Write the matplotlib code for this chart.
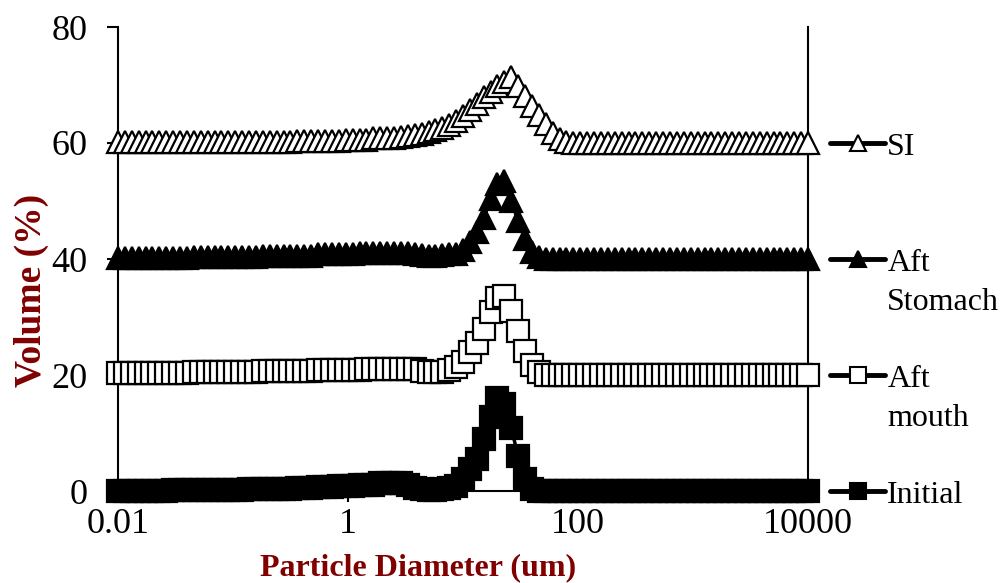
import matplotlib
matplotlib.use("Agg")
import matplotlib.pyplot as plt
import matplotlib.transforms as mtransforms

plt.rcParams['font.family'] = ['Liberation Serif', 'DejaVu Serif']

# Particle size classes (um)
sizes = [0.01000, 0.01148, 0.01318, 0.01514, 0.01738, 0.01995, 0.02291, 0.02630, 0.03020, 0.03467,
         0.03981, 0.04571, 0.05248, 0.06026, 0.06918, 0.07943, 0.09120, 0.1047, 0.1202, 0.1380,
         0.1585, 0.1820, 0.2089, 0.2399, 0.2754, 0.3162, 0.3631, 0.4169, 0.4786, 0.5495,
         0.6310, 0.7244, 0.8318, 0.9550, 1.096, 1.259, 1.445, 1.660, 1.905, 2.188,
         2.512, 2.884, 3.311, 3.802, 4.365, 5.012, 5.754, 6.607, 7.586, 8.710,
         10.00, 11.48, 13.18, 15.14, 17.38, 19.95, 22.91, 26.30, 30.20, 34.67,
         39.81, 45.71, 52.48, 60.26, 69.18, 79.43, 91.20, 104.7, 120.2, 138.0,
         158.5, 182.0, 208.9, 239.9, 275.4, 316.2, 363.1, 416.9, 478.6, 549.5,
         631.0, 724.4, 831.8, 955.0, 1096, 1259, 1445, 1660, 1905, 2188,
         2512, 2884, 3311, 3802, 4365, 5012, 5754, 6607, 7586, 8710,
         10000]

initial = [0, 0, 0, 0, 0, 0, 0, 0, 0.1, 0.1,
           0.1, 0.1, 0.1, 0.1, 0.2, 0.2, 0.2, 0.2, 0.2, 0.3,
           0.3, 0.3, 0.3, 0.4, 0.4, 0.4, 0.5, 0.5, 0.5, 0.7,
           0.7, 0.7, 0.9, 0.9, 0.9, 1.1, 1.1, 1.1, 1.3, 1.4,
           1.4, 1.3, 1.0, 0.6, 0.3, 0.2, 0.2, 0.3, 0.5, 0.8,
           2.0, 3.8, 5.6, 9.0, 12.8, 16.0, 15.0, 10.8, 6.0, 2.0,
           0.3, 0, 0, 0, 0, 0, 0, 0, 0, 0,
           0, 0, 0, 0, 0, 0, 0, 0, 0, 0,
           0, 0, 0, 0, 0, 0, 0, 0, 0, 0,
           0, 0, 0, 0, 0, 0, 0, 0, 0, 0,
           0]

aft_mouth = [0.3, 0.3, 0.3, 0.3, 0.3, 0.3, 0.3, 0.3, 0.3, 0.3,
             0.3, 0.5, 0.5, 0.5, 0.5, 0.5, 0.5, 0.5, 0.5, 0.5,
             0.5, 0.7, 0.7, 0.7, 0.7, 0.7, 0.7, 0.7, 0.7, 0.9,
             0.9, 0.9, 0.9, 0.9, 0.9, 0.9, 1.1, 1.1, 1.1, 1.1,
             1.1, 1.1, 1.1, 1.0, 0.7, 0.5, 0.5, 0.6, 0.9, 1.4,
             2.3, 3.9, 5.6, 8.0, 10.8, 13.3, 13.6, 11.0, 7.6, 4.1,
             1.8, 0.5, 0, 0, 0, 0, 0, 0, 0, 0,
             0, 0, 0, 0, 0, 0, 0, 0, 0, 0,
             0, 0, 0, 0, 0, 0, 0, 0, 0, 0,
             0, 0, 0, 0, 0, 0, 0, 0, 0, 0,
             0]

aft_stomach = [0.1, 0.1, 0.1, 0.1, 0.1, 0.1, 0.1, 0.1, 0.1, 0.1,
               0.1, 0.3, 0.3, 0.3, 0.3, 0.3, 0.3, 0.3, 0.3, 0.3,
               0.3, 0.5, 0.5, 0.5, 0.5, 0.5, 0.5, 0.5, 0.5, 0.8,
               0.8, 0.8, 0.8, 0.8, 0.8, 1.1, 1.1, 1.1, 1.1, 1.1,
               1.1, 1.1, 1.0, 0.9, 0.7, 0.6, 0.6, 0.7, 0.8, 0.9,
               1.6, 3.0, 4.6, 7.1, 10.3, 13.0, 13.5, 10.0, 6.5, 3.4,
               1.2, 0.3, 0, 0, 0, 0, 0, 0, 0, 0,
               0, 0, 0, 0, 0, 0, 0, 0, 0, 0,
               0, 0, 0, 0, 0, 0, 0, 0, 0, 0,
               0, 0, 0, 0, 0, 0, 0, 0, 0, 0,
               0]

si = [0.1, 0.1, 0.1, 0.1, 0.1, 0.1, 0.1, 0.1, 0.1, 0.1,
      0.1, 0.1, 0.1, 0.1, 0.1, 0.1, 0.2, 0.2, 0.2, 0.2,
      0.2, 0.2, 0.2, 0.2, 0.2, 0.2, 0.3, 0.3, 0.3, 0.3,
      0.3, 0.3, 0.3, 0.5, 0.5, 0.5, 0.5, 0.8, 0.8, 0.8,
      0.8, 1.0, 1.2, 1.4, 1.6, 1.9, 2.2, 2.5, 3.1, 3.8,
      4.6, 5.7, 6.7, 7.9, 8.8, 9.8, 10.6, 11.3, 9.8, 8.1,
      6.4, 4.8, 3.2, 1.8, 0.7, 0.2, 0, 0, 0, 0,
      0, 0, 0, 0, 0, 0, 0, 0, 0, 0,
      0, 0, 0, 0, 0, 0, 0, 0, 0, 0,
      0, 0, 0, 0, 0, 0, 0, 0, 0, 0,
      0]

series_values = [initial, aft_mouth, aft_stomach, si]
series_labels = ["Initial", "Aft\nmouth", "Aft\nStomach", "SI"]
offsets = [0, 20, 40, 60]
x_ticks = [0.01, 1, 100, 10000]
x_tick_labels = ["0.01", "1", "100", "10000"]
y_ticks = [0, 20, 40, 60, 80]

markers = ['s', 's', '^', '^']
facecolors = ['black', 'white', 'black', 'white']

fig = plt.figure(figsize=(10.06, 5.83), dpi=100)
ax = fig.add_axes([118 / 1006, 92 / 583, 690 / 1006, 464 / 583])

for vals, off, mk, fc in zip(series_values, offsets, markers, facecolors):
    yv = [v + off for v in vals]
    ax.plot(sizes, yv, color='black', lw=2.5, marker=mk, ms=16,
            mfc=fc, mec='black', mew=1.6, clip_on=False, zorder=3)

ax.set_xscale('log')
ax.set_xlim(0.01, 10000)
ax.set_ylim(0, 80)
ax.set_xticks(x_ticks)
ax.set_xticklabels(x_tick_labels)
ax.minorticks_off()
ax.set_yticks(y_ticks)
ax.tick_params(axis='both', direction='out', length=8, width=1.5, labelsize=26)
ax.tick_params(axis='y', pad=14)
ax.tick_params(axis='x', pad=4)

for s in ['left', 'bottom', 'right']:
    ax.spines[s].set_linewidth(1.5)
ax.spines['top'].set_visible(False)

label_color = '#800000'
ax.set_xlabel("Particle Diameter (um)", fontsize=23, fontweight='bold', color=label_color)
ax.xaxis.set_label_coords(0.435, -0.135)
ax.set_ylabel("Volume (%)", fontsize=27, fontweight='bold', color=label_color)
ax.yaxis.set_label_coords(-0.100, 0.433)

# Legend-like entries next to each baseline
trans = mtransforms.blended_transform_factory(ax.transAxes, ax.transData)
for lab, off, mk, fc in zip(series_labels, offsets, markers, facecolors):
    ax.plot([1.032, 1.112], [off, off], transform=trans, color='black', lw=3.5,
            clip_on=False, solid_capstyle='round')
    ax.plot([1.072], [off], transform=trans, marker=mk, ms=12, mfc=fc, mec='black',
            mew=1.5, clip_on=False, linestyle='none')
    lines = lab.split("\n")
    for i, ln in enumerate(lines):
        ax.annotate(ln, xy=(1.115, off), xycoords=trans, xytext=(0, -3 - i * 28),
                    textcoords='offset points', fontsize=23, va='center', ha='left',
                    annotation_clip=False)

fig.savefig("out.png", dpi=100)
